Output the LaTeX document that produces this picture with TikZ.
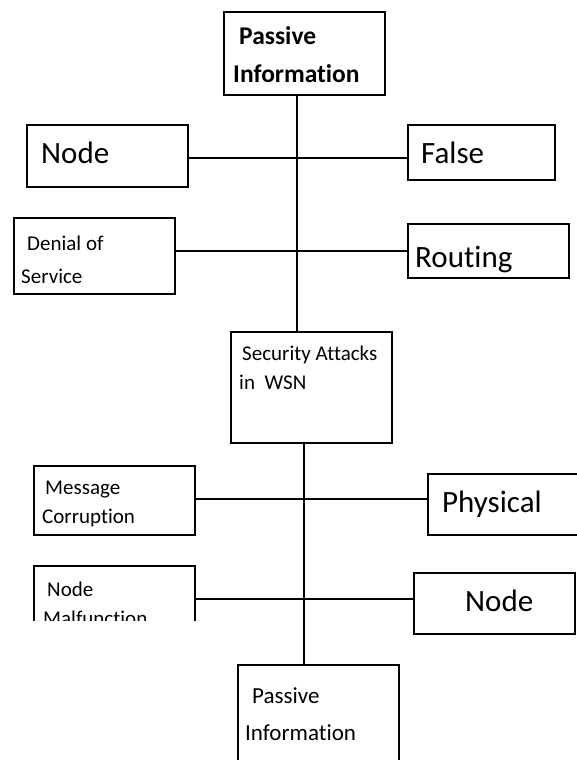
\documentclass[tikz,border=0pt]{standalone}
\usepackage{fontspec}
\setmainfont[Ligatures=CommonOff]{Carlito}
\tikzset{
  box/.style={draw, line width=1.8pt, rectangle, inner sep=0pt, anchor=north west},
  conn/.style={line width=1.8pt},
  txt/.style={anchor=base west, inner sep=0pt},
  big/.style={txt, font=\fontsize{31}{37}\selectfont},
  small/.style={txt, font=\fontsize{21}{25}\selectfont},
  med/.style={txt, font=\fontsize{23}{27}\selectfont},
  boldt/.style={txt, font=\fontsize{25.5}{30}\selectfont\bfseries}
}
\begin{document}
\begin{tikzpicture}[x=1pt,y=-1pt]
\useasboundingbox (0,0) rectangle (577,760);
\clip (0,0) rectangle (577,760);
% boxes
\node[box, minimum width=161pt, minimum height=83pt] (top) at (223,11) {};
\node[box, minimum width=161pt, minimum height=62pt] (nodeL) at (26,124) {};
\node[box, minimum width=147pt, minimum height=55pt] (falseB) at (407,124) {};
\node[box, minimum width=161pt, minimum height=76pt] (denial) at (13,217) {};
\node[box, minimum width=161pt, minimum height=54pt] (routing) at (407,223) {};
\node[box, minimum width=161pt, minimum height=111pt] (sec) at (230,331) {};
\node[box, minimum width=161pt, minimum height=69pt] (msg) at (33,465) {};
\node[box, minimum width=180pt, minimum height=61pt] (phys) at (427,473) {};
\node[box, minimum width=161pt, minimum height=61pt] (nodeR) at (413,572) {};
\node[box, minimum width=161pt, minimum height=130pt] (bottom) at (237,664) {};
\begin{scope}
\clip (31,563) rectangle (196,620);
\node[box, minimum width=161pt, minimum height=80pt] (malf) at (33,565) {};
\node[small] (tmalf2) at (43,625) {Malfunction};
\end{scope}
% junctions
\coordinate (j0) at (297,0);
\coordinate (j1) at (297,158);
\coordinate (j2) at (297,251);
\coordinate (j5) at (304,0);
\coordinate (j3) at (304,499);
\coordinate (j4) at (304,599);
% connectors
\draw[conn] (top.south -| j0) -- (sec.north -| j0);
\draw[conn] (sec.south -| j5) -- (bottom.north -| j5);
\draw[conn] (nodeL.east |- j1) -- (falseB.west |- j1);
\draw[conn] (denial.east |- j2) -- (routing.west |- j2);
\draw[conn] (msg.east |- j3) -- (phys.west |- j3);
\draw[conn] (malf.east |- j4) -- (nodeR.west |- j4);
% texts
\node[boldt] (t1) at (239,45) {Passive};
\node[boldt] (t2) at (233,82) {Information};
\node[big] (t3) at (41,163) {Node};
\node[big] (t4) at (421,163) {False};
\node[small] (t5) at (27,250) {Denial of};
\node[small] (t6) at (21,283) {Service};
\node[big] (t7) at (415,267) {Routing};
\node[small] (t8) at (242,360) {Security Attacks};
\node[small] (t9) at (239,389) {in\ \ WSN};
\node[small] (t10) at (45,494) {Message};
\node[small] (t11) at (42,523) {Corruption};
\node[big] (t12) at (442,512) {Physical};
\node[small] (t13) at (47,596) {Node};
\node[big] (t14) at (465,611) {Node};
\node[med] (t15) at (252,703) {Passive};
\node[med] (t16) at (245,740) {Information};
\end{tikzpicture}
\end{document}
